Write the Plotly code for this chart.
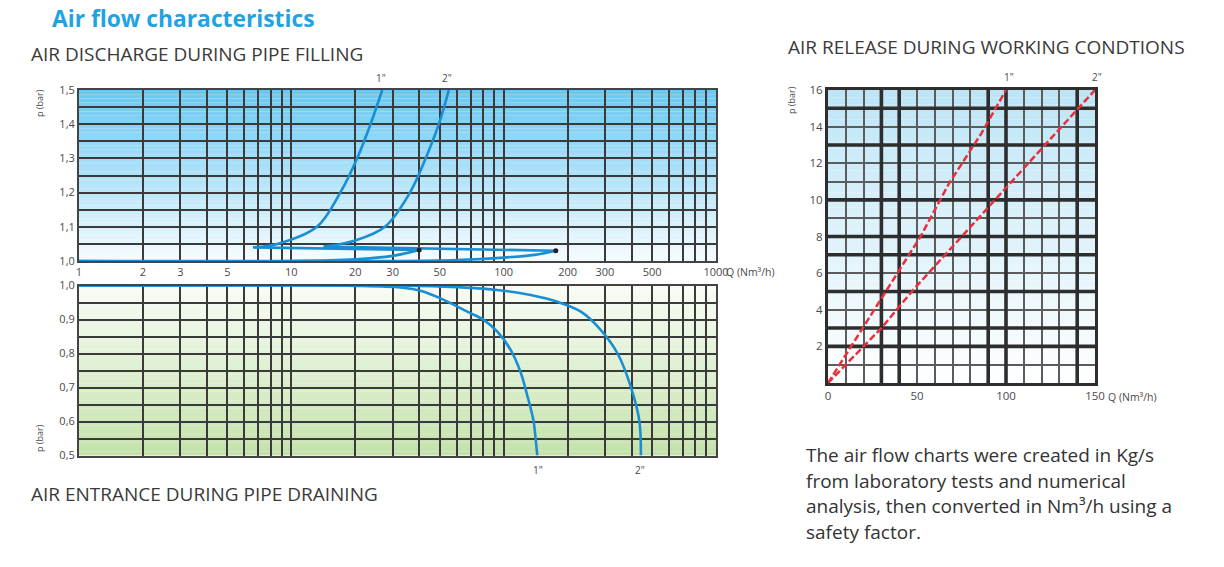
import plotly.graph_objects as go

# ---------------- DATA ----------------
# Air discharge during pipe filling (Q in Nm3/h, p in bar)
# low-pressure part (runs along 1.0 up to the closing dot), then the rising curve
fill_1_low_q = [1, 10, 20, 30, 40]
fill_1_low_p = [1.0, 1.0, 1.005, 1.015, 1.032]
fill_1_q = [6.6, 8.6, 13.2, 17.0, 20.4, 23.6, 26.8]
fill_1_p = [1.04, 1.05, 1.1, 1.2, 1.3, 1.4, 1.5]
fill_2_low_q = [1, 30, 60, 100, 140, 176]
fill_2_low_p = [1.0, 1.0, 1.003, 1.01, 1.018, 1.03]
fill_2_q = [14.2, 20, 27.6, 36.2, 42.9, 49.5, 55.2]
fill_2_p = [1.042, 1.06, 1.1, 1.2, 1.3, 1.4, 1.5]

# Air entrance during pipe draining
drain_1_q = [1, 10, 20, 32.7, 41, 50.4, 67.4, 80.5, 93.4, 108, 120, 129, 138, 141.6, 144]
drain_1_p = [1.0, 1.0, 0.999, 0.994, 0.984, 0.962, 0.923, 0.899, 0.864, 0.81, 0.746, 0.678, 0.604, 0.546, 0.5]
drain_2_q = [1, 30, 56, 93, 134, 179, 231, 287, 344, 397, 435, 443]
drain_2_p = [1.0, 1.0, 0.996, 0.987, 0.972, 0.952, 0.923, 0.869, 0.80, 0.702, 0.604, 0.5]

# Air release during working conditions
rel_1_q = [0, 20, 38, 52, 68, 86, 100]
rel_1_p = [0, 3.1, 5.9, 8.0, 10.9, 13.6, 16]
rel_2_q = [0, 30, 48, 75, 95, 121, 150]
rel_2_p = [0, 3.0, 5.1, 8.0, 10.1, 12.9, 16]

# Tick labels
log_labels = {1: "1", 2: "2", 3: "3", 5: "5", 10: "10", 20: "20", 30: "30", 50: "50",
              100: "100", 200: "200", 300: "300", 500: "500", 1000: "1000"}
fill_p_labels = {1.0: "1,0", 1.1: "1,1", 1.2: "1,2", 1.3: "1,3", 1.4: "1,4", 1.5: "1,5"}
drain_p_labels = {0.5: "0,5", 0.6: "0,6", 0.7: "0,7", 0.8: "0,8", 0.9: "0,9", 1.0: "1,0"}
rel_q_labels = {0: "0", 50: "50", 100: "100", 150: "150"}
rel_p_labels = {2: "2", 4: "4", 6: "6", 8: "8", 10: "10", 12: "12", 14: "14", 16: "16"}
rel_thick_q = [30, 40, 90, 100, 140]
rel_thick_p = [2, 3, 5, 7, 8, 10, 13, 15]

# ---------------- LAYOUT HELPERS ----------------
W, H = 1224, 567
def fx(p):
    return p / W
def fy(p):
    return 1 - p / H

BLUE = "#1a8ed2"
RED = "#e8303c"
GRID = "#3a3a3a"
TXT = "#4a4a4a"
FONT = "Open Sans"

log_vals = [m * 10 ** d for d in range(3) for m in range(1, 10)] + [1000]
log_text = [log_labels.get(v, "") for v in log_vals]

fig = go.Figure()

def add_line(x, y, xa, ya, spline=True):
    st = dict(color=BLUE, width=2.6)
    if spline:
        st.update(shape="spline", smoothing=1.0)
    fig.add_trace(go.Scatter(x=x, y=y, mode="lines", line=st, xaxis=xa, yaxis=ya,
                             cliponaxis=False, hoverinfo="skip"))

for low_q, low_p, cq, cp in [(fill_1_low_q, fill_1_low_p, fill_1_q, fill_1_p),
                             (fill_2_low_q, fill_2_low_p, fill_2_q, fill_2_p)]:
    add_line(low_q, low_p, "x", "y", spline=True)
    add_line([low_q[-1], cq[0]], [low_p[-1], cp[0]], "x", "y", spline=False)
    add_line(cq, cp, "x", "y", spline=True)
fig.add_trace(go.Scatter(x=[fill_1_low_q[-1], fill_2_low_q[-1]],
                         y=[fill_1_low_p[-1], fill_2_low_p[-1]], mode="markers",
                         marker=dict(color="#222", size=5), xaxis="x", yaxis="y",
                         cliponaxis=False, hoverinfo="skip"))

add_line(drain_1_q, drain_1_p, "x2", "y2")
add_line(drain_2_q, drain_2_p, "x2", "y2")

# thick grid lines of the working-conditions chart
tx, ty = [], []
for q in rel_thick_q:
    tx += [q, q, None]
    ty += [0, 16, None]
for p in rel_thick_p:
    tx += [0, 150, None]
    ty += [p, p, None]
fig.add_trace(go.Scatter(x=tx, y=ty, mode="lines", line=dict(color="#2e2e2e", width=3.6),
                         xaxis="x3", yaxis="y3", hoverinfo="skip"))

red_style = dict(color=RED, width=2.5, dash="7px,3px")
fig.add_trace(go.Scatter(x=rel_1_q, y=rel_1_p, mode="lines", line=red_style,
                         xaxis="x3", yaxis="y3", cliponaxis=False, hoverinfo="skip"))
fig.add_trace(go.Scatter(x=rel_2_q, y=rel_2_p, mode="lines", line=red_style,
                         xaxis="x3", yaxis="y3", cliponaxis=False, hoverinfo="skip"))

shapes = []

def hexrgb(h):
    h = h.lstrip("#")
    return tuple(int(h[i:i + 2], 16) for i in (0, 2, 4))

def gradient(xr, yr, c_bottom, c_top, n=40):
    b, t = hexrgb(c_bottom), hexrgb(c_top)
    for i in range(n):
        f = (i + 0.5) / n
        c = tuple(round(b[k] + (t[k] - b[k]) * f) for k in range(3))
        shapes.append(dict(type="rect", xref=xr, yref=yr, x0=0, x1=1, y0=i / n, y1=(i + 1) / n,
                           fillcolor="rgb(%d,%d,%d)" % c, line=dict(width=0), layer="below"))

gradient("x domain", "y domain", "#f6fcfe", "#68c8f2")
gradient("x2 domain", "y2 domain", "#c4e2ab", "#f8fcf6")
gradient("x3 domain", "y3 domain", "#ffffff", "#bde5f6")

tickfont = dict(family=FONT, size=11, color=TXT)
common_axis = dict(showline=True, mirror=True, linecolor="#444", linewidth=2,
                   gridcolor=GRID, gridwidth=2.2, zeroline=False, ticks="",
                   tickfont=tickfont, fixedrange=True, automargin=False)

fill_vals = [round(1.0 + 0.05 * i, 2) for i in range(11)]
drain_vals = [round(0.5 + 0.05 * i, 2) for i in range(11)]

fig.update_layout(
    width=W, height=H, margin=dict(l=0, r=0, t=0, b=0, autoexpand=False),
    paper_bgcolor="white", plot_bgcolor="rgba(0,0,0,0)", showlegend=False,
    xaxis=dict(common_axis, type="log", range=[0, 3], domain=[fx(79), fx(716)], anchor="y",
               tickvals=log_vals, ticktext=log_text),
    yaxis=dict(common_axis, range=[1.0, 1.5], domain=[fy(261), fy(90)], anchor="x",
               tickvals=fill_vals, ticktext=[fill_p_labels.get(v, "") for v in fill_vals]),
    xaxis2=dict(common_axis, type="log", range=[0, 3], domain=[fx(79), fx(716)], anchor="y2",
                tickvals=log_vals, showticklabels=False),
    yaxis2=dict(common_axis, range=[0.5, 1.0], domain=[fy(455.5), fy(285.5)], anchor="x2",
                tickvals=drain_vals, ticktext=[drain_p_labels.get(v, "") for v in drain_vals]),
    xaxis3=dict(common_axis, range=[0, 150], domain=[fx(828), fx(1095)], anchor="y3",
                tickvals=list(range(0, 151, 10)),
                ticktext=[rel_q_labels.get(v, "") for v in range(0, 151, 10)],
                gridcolor="#5c5c5c", gridwidth=1.8, linewidth=3, linecolor="#2e2e2e",
                tickfont=dict(family=FONT, size=11.5, color=TXT)),
    yaxis3=dict(common_axis, range=[0, 16], domain=[fy(383), fy(90)], anchor="x3",
                tickvals=list(range(0, 17)),
                ticktext=[rel_p_labels.get(v, "") for v in range(0, 17)],
                gridcolor="#5c5c5c", gridwidth=1.8, linewidth=3, linecolor="#2e2e2e",
                tickfont=dict(family=FONT, size=11.5, color=TXT)),
    shapes=shapes,
)

ann = []
def text(x, y, s, size, color="#3a3a3a", bold=False, xanchor="left", angle=0, family=FONT):
    ann.append(dict(x=fx(x), y=fy(y), xref="paper", yref="paper", text=("<b>%s</b>" % s) if bold else s,
                    showarrow=False, xanchor=xanchor, yanchor="middle", textangle=angle,
                    font=dict(family=family, size=size, color=color)))

text(50, 18, "Air flow characteristics", 22.8, color="#1fa3e3", bold=True)
text(29, 54, "AIR DISCHARGE DURING PIPE FILLING", 19)
text(29, 494, "AIR ENTRANCE DURING PIPE DRAINING", 19)
text(786, 47, "AIR RELEASE DURING WORKING CONDTIONS", 19)
text(724, 272, "Q (Nm³/h)", 10.5, color=TXT)
text(1106, 397, "Q (Nm³/h)", 10.5, color=TXT)
text(39, 103, "p (bar)", 9, color=TXT, xanchor="center", angle=-90)
text(39, 438, "p (bar)", 9, color=TXT, xanchor="center", angle=-90)
text(791, 100, "p (bar)", 9, color=TXT, xanchor="center", angle=-90)
text(381, 78, '1"', 10, color=TXT, xanchor="center")
text(447, 78, '2"', 10, color=TXT, xanchor="center")
text(538, 470, '1"', 10, color=TXT, xanchor="center")
text(640, 470, '2"', 10, color=TXT, xanchor="center")
text(1009, 77, '1"', 10, color=TXT, xanchor="center")
text(1097, 77, '2"', 10, color=TXT, xanchor="center")

para = ["The air flow charts were created in Kg/s",
        "from laboratory tests and numerical",
        "analysis, then converted in Nm³/h using a",
        "safety factor."]
for i, line in enumerate(para):
    text(804, 455 + 25.7 * i, line, 19, color="#333")

fig.update_layout(annotations=ann)
fig.write_html("out.html", config={"displayModeBar": False})
